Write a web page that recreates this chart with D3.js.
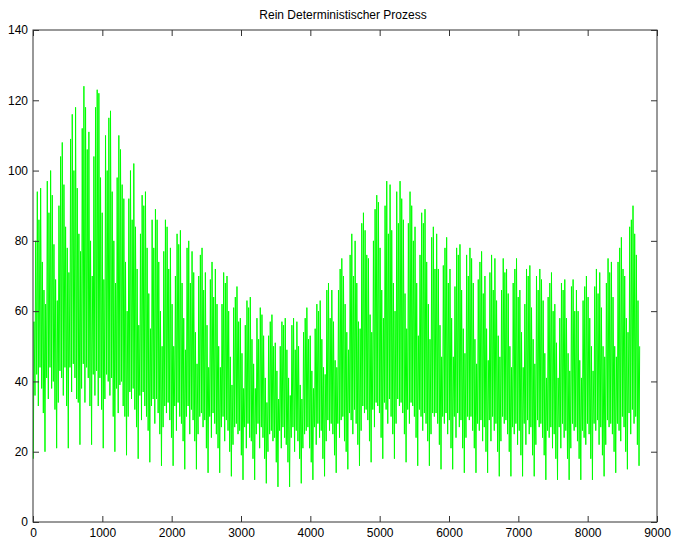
<!DOCTYPE html>
<html>
<head>
<meta charset="utf-8">
<script src="https://cdn.jsdelivr.net/npm/d3@7"></script>
<style>
  body { margin: 0; background: #fff; }
  text { font-family: "Liberation Sans", Arial, sans-serif; }
</style>
</head>
<body>
<svg width="675" height="540"></svg>
<script>
// daily peak / night low, one week (Sun..Sat) per row
var dayHigh = [
  57, 80, 94, 86, 95, 74, 66,
  62, 97, 88, 100, 93, 79, 69,
  63, 90, 104, 108, 96, 84, 78,
  71, 109, 116, 100, 118, 95, 82,
  77, 112, 124, 118, 106, 111, 80,
  70, 104, 118, 123, 122, 98, 88,
  69, 110, 100, 115, 117, 94, 80,
  68, 98, 110, 106, 96, 92, 74,
  60, 92, 100, 86, 102, 84, 72,
  56, 82, 93, 90, 94, 78, 65,
  55, 86, 78, 89, 86, 74, 60,
  50, 77, 86, 84, 72, 78, 62,
  50, 70, 82, 79, 83, 68, 58,
  49, 78, 80, 68, 77, 71, 54,
  45, 70, 76, 78, 66, 71, 56,
  44, 69, 74, 64, 72, 62, 50,
  44, 62, 71, 68, 70, 60, 47,
  39, 61, 64, 67, 57, 58, 48,
  38, 56, 63, 61, 64, 52, 45,
  38, 58, 52, 61, 59, 53, 41,
  34, 53, 57, 59, 50, 51, 43,
  35, 50, 57, 56, 58, 49, 41,
  36, 56, 58, 49, 57, 50, 39,
  35, 54, 58, 61, 52, 53, 43,
  38, 55, 62, 60, 63, 52, 44,
  42, 66, 68, 58, 66, 57, 46,
  44, 66, 72, 75, 70, 62, 54,
  49, 76, 82, 70, 80, 68, 57,
  55, 85, 88, 83, 76, 75, 59,
  54, 80, 89, 93, 91, 78, 66,
  58, 90, 97, 82, 96, 83, 68,
  60, 94, 85, 97, 92, 86, 65,
  55, 85, 94, 90, 80, 84, 68,
  53, 76, 88, 85, 89, 74, 62,
  52, 81, 84, 72, 82, 72, 56,
  47, 73, 78, 81, 68, 72, 58,
  47, 67, 78, 76, 79, 66, 55,
  48, 76, 70, 78, 75, 68, 52,
  45, 69, 74, 77, 65, 70, 55,
  46, 71, 76, 66, 75, 63, 53,
  47, 66, 75, 71, 72, 65, 50,
  44, 68, 72, 75, 64, 66, 54,
  44, 62, 72, 70, 73, 61, 52,
  45, 70, 66, 72, 69, 63, 48,
  41, 64, 68, 71, 60, 62, 51,
  41, 58, 68, 66, 69, 58, 48,
  43, 67, 69, 60, 66, 60, 46,
  41, 63, 67, 70, 64, 58, 50,
  43, 67, 72, 65, 71, 61, 50,
  47, 68, 75, 71, 74, 64, 50,
  47, 74, 78, 81, 72, 70, 58,
  54, 84, 86, 90, 82, 76, 63,
  50
];

var dayLow = [
  18, 36, 42, 33, 44, 38, 31,
  20, 41, 35, 44, 38, 40, 32,
  21, 34, 43, 41, 36, 44, 33,
  21, 44, 37, 45, 41, 35, 34,
  22, 38, 45, 34, 44, 41, 33,
  22, 42, 36, 43, 33, 41, 32,
  21, 35, 42, 40, 36, 41, 30,
  20, 38, 31, 39, 40, 33, 30,
  19, 30, 37, 35, 38, 32, 27,
  18, 36, 29, 37, 33, 30, 26,
  17, 33, 35, 28, 35, 31, 25,
  16, 27, 33, 31, 34, 29, 24,
  16, 33, 26, 34, 30, 28, 23,
  15, 30, 33, 25, 32, 29, 23,
  15, 25, 30, 31, 27, 29, 21,
  14, 30, 24, 31, 28, 25, 21,
  14, 27, 30, 23, 29, 26, 20,
  13, 22, 27, 28, 25, 26, 19,
  12, 27, 21, 28, 24, 23, 18,
  12, 25, 28, 21, 27, 24, 18,
  11, 20, 25, 26, 23, 24, 17,
  10, 26, 21, 27, 24, 22, 17,
  10, 24, 27, 20, 26, 23, 18,
  11, 21, 25, 26, 27, 21, 17,
  12, 27, 22, 28, 24, 26, 18,
  13, 23, 29, 26, 28, 25, 19,
  14, 28, 24, 29, 30, 23, 20,
  15, 31, 29, 25, 32, 28, 22,
  16, 26, 33, 31, 32, 29, 23,
  17, 32, 27, 34, 33, 31, 24,
  18, 34, 32, 28, 35, 30, 25,
  18, 28, 35, 33, 34, 31, 25,
  17, 32, 28, 34, 33, 30, 24,
  16, 32, 30, 26, 31, 28, 23,
  16, 25, 31, 30, 31, 28, 22,
  15, 30, 28, 31, 25, 29, 21,
  15, 30, 24, 31, 27, 29, 21,
  14, 24, 30, 29, 30, 26, 21,
  14, 28, 26, 29, 23, 27, 20,
  14, 29, 23, 30, 26, 28, 20,
  13, 23, 30, 28, 29, 25, 20,
  13, 27, 25, 28, 22, 26, 19,
  13, 28, 22, 29, 25, 27, 19,
  13, 22, 29, 27, 28, 24, 19,
  12, 26, 24, 27, 21, 25, 18,
  12, 27, 21, 28, 24, 26, 18,
  12, 21, 28, 26, 27, 23, 18,
  12, 26, 24, 22, 28, 25, 18,
  12, 28, 26, 29, 22, 27, 19,
  13, 22, 29, 27, 28, 25, 20,
  14, 28, 26, 23, 30, 27, 20,
  15, 31, 25, 32, 28, 30, 22,
  16
];

var xTicks = [0, 1000, 2000, 3000, 4000, 5000, 6000, 7000, 8000, 9000],
    yTicks = [0, 20, 40, 60, 80, 100, 120, 140],
    title = "Rein Deterministischer Prozess";

var svg = d3.select("svg"),
    plotL = 33, plotR = 657, plotT = 30, plotB = 522;

var x = d3.scaleLinear().domain([0, 9000]).range([plotL, plotR]),
    y = d3.scaleLinear().domain([0, 140]).range([plotB, plotT]);

// night low at 5h, peak at 14h of every day
var points = [];
dayLow.forEach(function(v, d) {
  points.push([d * 24 + 5, v]);
  points.push([d * 24 + 14, dayHigh[d]]);
});

var line = d3.line()
    .x(function(d) { return x(d[0]); })
    .y(function(d) { return y(d[1]); });

svg.append("path")
    .datum(points)
    .attr("fill", "none")
    .attr("stroke", "#00ff00")
    .attr("stroke-width", 1)
    .attr("d", line);

function style(g) {
  g.select(".domain").remove();
  g.selectAll("line").attr("stroke", "#333");
  g.selectAll("text").attr("fill", "#000").style("font-size", "12px");
}

var fmt = d3.format("d");

svg.append("g").attr("transform", "translate(0," + plotB + ")")
    .call(d3.axisBottom(x).tickValues(xTicks).tickFormat(fmt).tickSizeInner(-6).tickSizeOuter(0).tickPadding(6))
    .call(style);
svg.append("g").attr("transform", "translate(0," + plotT + ")")
    .call(d3.axisTop(x).tickValues(xTicks).tickSizeInner(-6).tickSizeOuter(0).tickFormat(""))
    .call(style);
svg.append("g").attr("transform", "translate(" + plotL + ",0)")
    .call(d3.axisLeft(y).tickValues(yTicks).tickFormat(fmt).tickSizeInner(-6).tickSizeOuter(0).tickPadding(5))
    .call(style);
svg.append("g").attr("transform", "translate(" + plotR + ",0)")
    .call(d3.axisRight(y).tickValues(yTicks).tickSizeInner(-6).tickSizeOuter(0).tickFormat(""))
    .call(style);

svg.append("rect")
    .attr("x", plotL).attr("y", plotT)
    .attr("width", plotR - plotL).attr("height", plotB - plotT)
    .attr("fill", "none").attr("stroke", "#333").attr("stroke-width", 1);

svg.append("text")
    .attr("x", 343).attr("y", 19)
    .attr("text-anchor", "middle")
    .style("font-size", "12px")
    .text(title);
</script>
</body>
</html>
